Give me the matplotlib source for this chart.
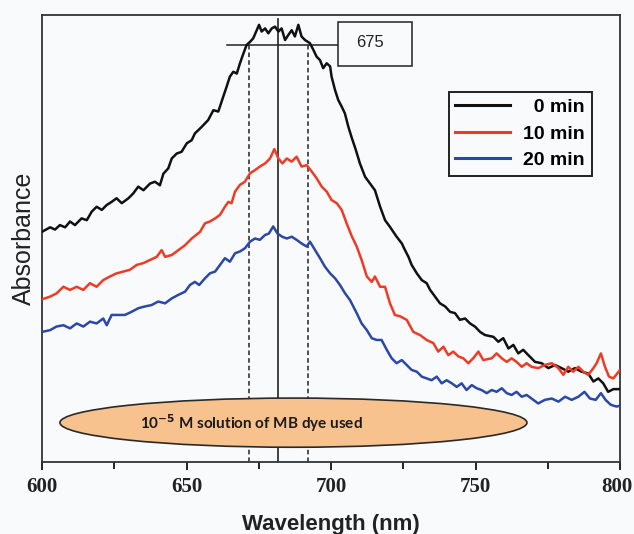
import matplotlib
matplotlib.use('Agg')
from matplotlib import pyplot as plt
from matplotlib.patches import Ellipse, Rectangle
from matplotlib.transforms import ScaledTranslation

# absorption spectra of MB dye (arbitrary absorbance units)
wl_0min = [600.0, 602.8, 604.5, 606.2, 608.0, 609.7, 611.4, 613.7, 615.5, 617.2,
           618.9, 620.7, 622.4, 624.1, 625.8, 627.6, 629.9, 631.6, 633.3, 635.1,
           637.4, 639.1, 640.8, 642.0, 643.7, 644.9, 646.6, 648.3, 650.1, 651.8,
           652.9, 655.3, 657.5, 659.3, 661.0, 662.7, 663.9, 665.0, 666.2, 667.4,
           668.5, 669.7, 670.8, 672.0, 673.1, 674.3, 675.1, 676.0, 677.2, 678.3,
           679.5, 680.6, 681.8, 682.9, 684.1, 685.2, 686.4, 687.5, 688.7, 689.8,
           691.0, 692.7, 693.9, 695.0, 696.2, 697.3, 698.5, 699.7, 700.2, 701.4,
           702.5, 703.7, 704.8, 706.0, 707.2, 708.5, 710.0, 711.8, 713.5, 715.2,
           717.0, 718.7, 720.4, 722.7, 724.5, 725.6, 726.8, 727.9, 729.7, 731.4,
           733.1, 734.3, 736.0, 737.7, 739.5, 741.2, 742.9, 744.6, 746.4, 748.1,
           749.8, 751.6, 753.3, 756.2, 757.9, 759.6, 761.4, 763.1, 764.8, 766.5,
           768.3, 770.6, 772.9, 775.2, 777.5, 779.8, 782.1, 784.4, 786.7, 789.0,
           790.8, 792.5, 794.2, 795.9, 797.7, 800.0]
abs_0min = [0.515, 0.525, 0.520, 0.530, 0.525, 0.538, 0.530, 0.545, 0.541, 0.560,
            0.571, 0.564, 0.575, 0.582, 0.590, 0.579, 0.590, 0.601, 0.616, 0.608,
            0.623, 0.627, 0.619, 0.645, 0.657, 0.679, 0.690, 0.694, 0.713, 0.720,
            0.735, 0.750, 0.765, 0.787, 0.784, 0.817, 0.840, 0.862, 0.873, 0.869,
            0.892, 0.914, 0.933, 0.940, 0.948, 0.966, 0.978, 0.963, 0.970, 0.959,
            0.970, 0.974, 0.963, 0.970, 0.944, 0.955, 0.966, 0.952, 0.978, 0.952,
            0.944, 0.937, 0.922, 0.907, 0.899, 0.881, 0.892, 0.885, 0.862, 0.832,
            0.810, 0.795, 0.780, 0.750, 0.725, 0.700, 0.668, 0.638, 0.623, 0.608,
            0.571, 0.541, 0.526, 0.504, 0.489, 0.474, 0.459, 0.441, 0.422, 0.407,
            0.400, 0.385, 0.370, 0.355, 0.348, 0.336, 0.333, 0.318, 0.321, 0.310,
            0.303, 0.291, 0.284, 0.280, 0.269, 0.277, 0.254, 0.262, 0.243, 0.251,
            0.239, 0.224, 0.221, 0.210, 0.217, 0.210, 0.202, 0.210, 0.202, 0.198,
            0.180, 0.187, 0.176, 0.157, 0.163, 0.163]

wl_10min = [600.0, 602.8, 605.0, 607.4, 609.7, 612.0, 614.3, 616.6, 618.9, 621.2,
            623.5, 625.8, 628.1, 630.4, 632.8, 635.1, 637.4, 639.7, 641.4, 642.6,
            644.9, 647.2, 649.5, 651.8, 654.7, 656.4, 658.1, 659.9, 661.6, 663.3,
            664.5, 665.6, 666.8, 668.5, 670.2, 672.0, 673.7, 675.4, 677.2, 678.9,
            680.4, 681.8, 683.2, 684.7, 686.4, 688.1, 689.8, 691.6, 693.3, 695.0,
            696.8, 698.5, 700.2, 702.0, 703.7, 705.4, 707.2, 708.9, 710.6, 712.4,
            714.1, 715.2, 717.0, 718.7, 720.4, 722.1, 723.9, 726.2, 728.5, 730.8,
            733.1, 735.4, 737.1, 738.9, 740.6, 742.3, 744.1, 745.8, 747.5, 749.2,
            751.0, 752.7, 755.6, 757.3, 759.1, 760.8, 762.5, 764.2, 766.0, 767.7,
            769.4, 771.7, 774.0, 776.4, 778.7, 780.4, 782.1, 783.8, 785.6, 787.3,
            789.0, 790.8, 791.9, 793.4, 794.8, 796.2, 797.7, 800.0]
abs_10min = [0.364, 0.370, 0.377, 0.392, 0.385, 0.392, 0.385, 0.400, 0.392, 0.407,
             0.415, 0.422, 0.426, 0.430, 0.441, 0.445, 0.452, 0.459, 0.474, 0.459,
             0.463, 0.474, 0.485, 0.500, 0.515, 0.534, 0.538, 0.545, 0.553, 0.571,
             0.582, 0.579, 0.605, 0.620, 0.627, 0.646, 0.653, 0.661, 0.668, 0.679,
             0.700, 0.679, 0.668, 0.679, 0.672, 0.683, 0.661, 0.664, 0.650, 0.635,
             0.616, 0.605, 0.586, 0.579, 0.564, 0.534, 0.505, 0.482, 0.452, 0.415,
             0.403, 0.415, 0.392, 0.392, 0.355, 0.329, 0.326, 0.318, 0.291, 0.284,
             0.273, 0.266, 0.247, 0.258, 0.239, 0.247, 0.236, 0.232, 0.221, 0.232,
             0.247, 0.228, 0.232, 0.243, 0.232, 0.224, 0.232, 0.224, 0.213, 0.221,
             0.213, 0.210, 0.217, 0.221, 0.210, 0.195, 0.213, 0.202, 0.213, 0.202,
             0.195, 0.210, 0.221, 0.243, 0.213, 0.191, 0.187, 0.206]

wl_20min = [600.0, 602.8, 605.0, 607.4, 609.7, 612.0, 614.3, 616.6, 618.9, 621.2,
            622.4, 624.1, 626.4, 628.7, 631.0, 633.3, 635.6, 637.9, 640.2, 642.6,
            644.9, 647.2, 649.5, 651.2, 652.9, 654.4, 656.4, 658.1, 659.9, 661.6,
            663.3, 665.0, 666.8, 668.5, 670.2, 672.0, 673.7, 675.4, 677.2, 678.5,
            680.0, 681.5, 683.1, 684.7, 686.4, 688.1, 689.8, 691.6, 692.7, 694.5,
            696.2, 697.9, 699.7, 701.4, 703.1, 704.8, 706.6, 708.9, 710.6, 712.4,
            714.1, 715.8, 717.5, 719.3, 721.0, 722.7, 724.5, 726.2, 727.9, 729.7,
            731.4, 733.1, 734.8, 736.6, 738.3, 740.0, 741.8, 743.5, 745.2, 746.9,
            748.7, 750.4, 752.1, 753.9, 755.6, 757.3, 759.1, 760.8, 762.5, 764.2,
            766.0, 767.7, 769.4, 771.7, 774.0, 776.4, 778.7, 781.0, 783.3, 785.6,
            787.7, 789.6, 791.6, 793.4, 795.0, 796.8, 798.8, 800.0]
abs_20min = [0.291, 0.295, 0.303, 0.306, 0.299, 0.310, 0.303, 0.314, 0.310, 0.321,
             0.306, 0.329, 0.329, 0.329, 0.336, 0.344, 0.348, 0.351, 0.359, 0.355,
             0.366, 0.374, 0.381, 0.396, 0.403, 0.396, 0.411, 0.422, 0.426, 0.441,
             0.456, 0.448, 0.467, 0.471, 0.478, 0.493, 0.500, 0.497, 0.508, 0.511,
             0.527, 0.511, 0.504, 0.500, 0.504, 0.497, 0.489, 0.482, 0.493, 0.474,
             0.456, 0.437, 0.422, 0.411, 0.396, 0.378, 0.362, 0.333, 0.310, 0.295,
             0.277, 0.273, 0.273, 0.251, 0.232, 0.221, 0.228, 0.217, 0.206, 0.202,
             0.191, 0.187, 0.183, 0.191, 0.176, 0.183, 0.176, 0.168, 0.176, 0.161,
             0.172, 0.165, 0.161, 0.154, 0.161, 0.157, 0.165, 0.154, 0.150, 0.157,
             0.146, 0.150, 0.142, 0.131, 0.139, 0.142, 0.135, 0.146, 0.139, 0.146,
             0.157, 0.142, 0.139, 0.154, 0.139, 0.128, 0.124, 0.126]

series_labels = ['  0 min', '10 min', '20 min']
series_colors = ['#111111', '#ee3b25', '#2b48a6']

xtick_vals = [600, 650, 700, 750, 800]
xminor_vals = [625, 675, 725, 775]

peak_wl = 681.5          # solid marker line
band_wl = [671.7, 692.0]  # dashed lines
band_level = 0.933
peak_label = '675'

bg = '#f9fafc'

fig = plt.figure(figsize=(6.34, 5.34), dpi=100, facecolor=bg)
ax = fig.add_axes([42/634, 72/534, 578/634, 447/534], facecolor=bg)

for wl, ab, lab, c in zip((wl_0min, wl_10min, wl_20min),
                          (abs_0min, abs_10min, abs_20min),
                          series_labels, series_colors):
    ax.plot(wl, ab, color=c, lw=1.8, label=lab, zorder=3)

# peak marker lines
ax.axvline(peak_wl, ymin=0, ymax=0.99, color='#222222', lw=1.2, zorder=2)
for w in band_wl:
    ax.plot([w, w], [0, band_level], color='#222222', lw=1.1, ls=(0, (3, 2)), zorder=2)
ax.plot([664, 702.4], [band_level, band_level], color='#222222', lw=1.1, zorder=2)
ax.add_patch(Rectangle((702.4, 0.886), 25.6, 0.098, facecolor=bg, edgecolor='#222222',
                       lw=1.1, zorder=4))
ax.text(713.5, 0.939, peak_label, ha='center', va='center', fontsize=12,
        family='Liberation Sans', color='#222222', zorder=5)

# note in the orange ellipse
ax.add_patch(Ellipse((687, 0.088), 161.6, 0.11, facecolor='#f8c28f', edgecolor='#2a2a2a',
                     lw=1.2, zorder=4))
ax.text(672.5, 0.088, r'10$^{\mathbf{-5}}$ M solution of MB dye used', ha='center',
        va='center', fontsize=11, fontweight='bold', family='Lato', color='#1a1a1a',
        zorder=5)

ax.set_xlim(600, 800)
ax.set_ylim(0, 1)

ax.set_xticks(xtick_vals)
ax.set_xticklabels([str(v) for v in xtick_vals], fontsize=15, fontweight='bold',
                   family='Liberation Serif', color='#222222')
ax.set_xticks(xminor_vals, minor=True)
ax.tick_params(axis='x', which='major', direction='out', length=6, width=1.2, pad=5)
ax.tick_params(axis='x', which='minor', direction='out', length=5, width=1.2)
ax.tick_params(axis='y', left=False, labelleft=False)

# keep the last tick label inside the picture
last = ax.get_xticklabels()[-1]
last.set_transform(last.get_transform() + ScaledTranslation(-3/100, 0, fig.dpi_scale_trans))

for sp in ax.spines.values():
    sp.set_color('#333333')
    sp.set_linewidth(1.3)

ax.set_xlabel('Wavelength (nm)', fontsize=16, fontweight='bold', family='Liberation Sans',
              color='#222222', labelpad=12)
ax.set_ylabel('Absorbance', fontsize=18, family='Liberation Sans', color='#222222',
              labelpad=4)

leg = ax.legend(loc='upper right', bbox_to_anchor=(0.9516, 0.828), frameon=True,
                fancybox=False, framealpha=1, facecolor=bg, edgecolor='#222222',
                prop={'family': 'Liberation Sans', 'weight': 'bold', 'size': 14},
                handlelength=2.8, handletextpad=0.7, labelspacing=0.45,
                borderpad=0.35, borderaxespad=0)
leg.get_frame().set_linewidth(1.4)
for line in leg.get_lines():
    line.set_linewidth(2.2)

fig.savefig('out.png', dpi=100, facecolor=bg)
